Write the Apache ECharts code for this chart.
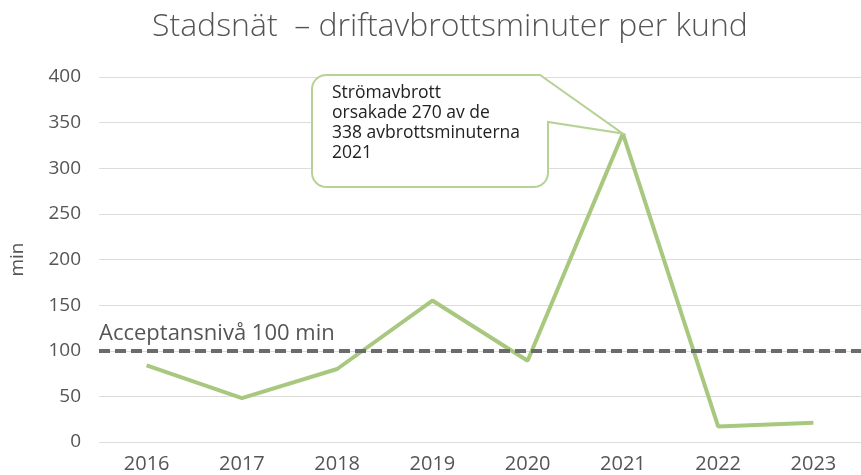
<!DOCTYPE html>
<html>
<head>
<meta charset="utf-8">
<script src="https://cdn.jsdelivr.net/npm/echarts@6/dist/echarts.min.js"></script>
<style>
  html, body { margin: 0; padding: 0; background: #fff; }
  #chart { width: 861px; height: 475px; }
</style>
</head>
<body>
<div id="chart"></div>
<script>
// data
const years = ['2016', '2017', '2018', '2019', '2020', '2021', '2022', '2023'];
const minutes = [84, 48, 80, 155, 89, 338, 17, 21];
const acceptLevel = 100;
const calloutYear = 5; // index of 2021
const calloutText = 'Strömavbrott\norsakade 270 av de\n338 avbrottsminuterna\n2021';

const font = '"Open Sans", Lato, sans-serif';
const chart = echarts.init(document.getElementById('chart'));

chart.setOption({
  animation: false,
  title: {
    text: 'Stadsnät  – driftavbrottsminuter per kund',
    left: 147,
    top: 6,
    textStyle: { fontFamily: font, fontSize: 32, fontWeight: 300, color: '#555' }
  },
  grid: { left: 98, right: -10, top: 77, bottom: 33 },
  xAxis: {
    type: 'category',
    data: years,
    axisLine: { show: false },
    axisTick: { show: false },
    axisLabel: { fontFamily: font, fontSize: 20, color: '#555', margin: 12 }
  },
  yAxis: {
    type: 'value',
    min: 0,
    max: 400,
    interval: 50,
    name: 'min',
    nameLocation: 'middle',
    nameGap: 72,
    nameRotate: 90,
    nameTextStyle: { fontFamily: font, fontSize: 19, color: '#555' },
    axisLabel: { fontFamily: font, fontSize: 19, color: '#555', margin: 18 },
    splitLine: { lineStyle: { color: '#dcdcdc', width: 1 } }
  },
  series: [{
    type: 'line',
    data: minutes,
    symbol: 'none',
    lineStyle: { color: '#a9c87f', width: 4 },
    markLine: {
      silent: true,
      symbol: 'none',
      data: [{ yAxis: acceptLevel }],
      lineStyle: { color: '#6b6b6b', width: 4, type: [11, 5] },
      label: {
        position: 'insideStartTop',
        formatter: 'Acceptansnivå 100 min',
        fontFamily: font,
        fontSize: 22,
        color: '#555',
        distance: [0, 6]
      }
    }
  }]
});

// speech bubble pointing at the 2021 value
const tip = chart.convertToPixel({ seriesIndex: 0 }, [calloutYear, minutes[calloutYear]]);
const box = { x: 312, y: 75, w: 236, h: 112, r: 14 };
const pts = [];
function arc(cx, cy, r, a0, a1) {
  for (let i = 0; i <= 6; i++) {
    const a = a0 + (a1 - a0) * i / 6;
    pts.push([cx + r * Math.cos(a), cy + r * Math.sin(a)]);
  }
}
const R = box.x + box.w, B = box.y + box.h, r = box.r;
arc(box.x + r, box.y + r, r, Math.PI, Math.PI * 1.5);
pts.push([R - 8, box.y]);
pts.push(tip);
pts.push([R, box.y + 47]);
arc(R - r, B - r, r, 0, Math.PI / 2);
arc(box.x + r, B - r, r, Math.PI / 2, Math.PI);

chart.setOption({
  graphic: [
    {
      type: 'polygon',
      shape: { points: pts },
      style: { fill: '#fff', stroke: '#b7d197', lineWidth: 2 },
      z: 100
    },
    {
      type: 'text',
      x: 332,
      y: 83,
      style: {
        text: calloutText,
        fontFamily: font,
        fontSize: 17.5,
        fontWeight: 500,
        lineHeight: 20,
        fill: '#222'
      },
      z: 101
    }
  ]
});
</script>
</body>
</html>
